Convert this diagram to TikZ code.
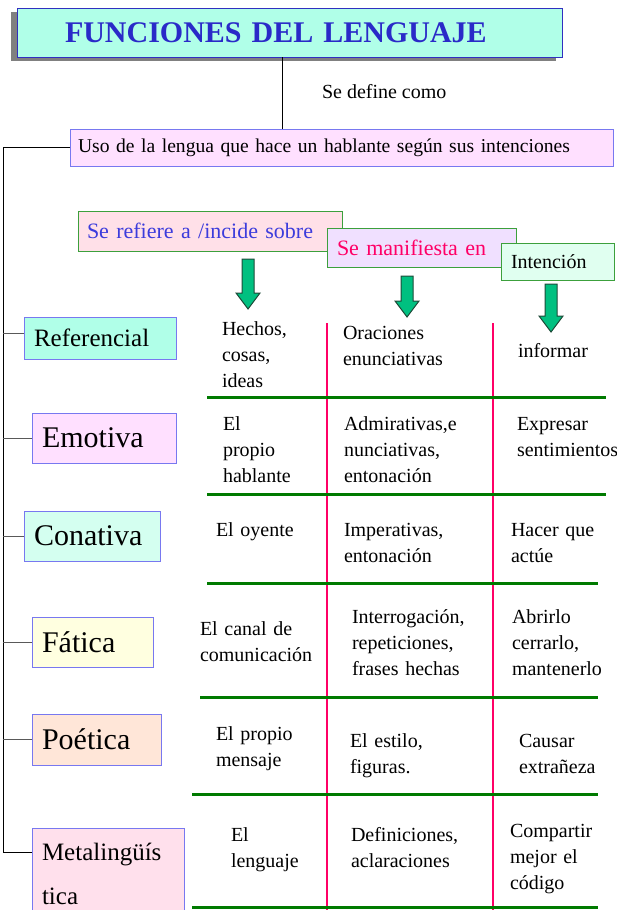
\documentclass[tikz,border=0pt]{standalone}
\usepackage{fontspec}
\setmainfont{Liberation Serif}
\usetikzlibrary{shadows}
\definecolor{cTitleFill}{HTML}{B0FFE8}
\definecolor{cTitleText}{HTML}{2A2AC8}
\definecolor{cTitleLine}{HTML}{3030C0}
\definecolor{cBlueLine}{HTML}{7878F0}
\definecolor{cUso}{HTML}{FFE0FF}
\definecolor{cGreenLine}{HTML}{3CA03C}
\definecolor{cRefiere}{HTML}{FFE0E8}
\definecolor{cRefText}{HTML}{3C3CDC}
\definecolor{cManif}{HTML}{F0E0FF}
\definecolor{cManText}{HTML}{FF0066}
\definecolor{cInt}{HTML}{E0FFF0}
\definecolor{cArrow}{HTML}{00C080}
\definecolor{cArrowLine}{HTML}{1E4A38}
\definecolor{cRed}{HTML}{FF0066}
\definecolor{cRule}{HTML}{007A00}
\definecolor{cEmo}{HTML}{FFE0FF}
\definecolor{cCon}{HTML}{D4FFF0}
\definecolor{cFat}{HTML}{FFFFE0}
\definecolor{cPoe}{HTML}{FFE6D8}
\definecolor{cMeta}{HTML}{FFE0EC}
\newcommand\garrow[3]{%
  \draw[arrowst] (#1-6,#2) -- (#1+6,#2) -- (#1+6,#3-16) -- (#1+12,#3-16) -- (#1,#3) -- (#1-12,#3-16) -- (#1-6,#3-16) -- cycle;}
\begin{document}
\begin{tikzpicture}[x=1pt,y=-1pt,
  every node/.style={inner sep=0pt,outer sep=0pt},
  cell/.style={anchor=base west, align=left, text width=150pt, font=\fontsize{20}{26}\selectfont},
  box/.style={draw, anchor=north west, align=left, line width=1pt},
  lbox/.style={box, draw=cBlueLine, inner xsep=10pt},
  gbox/.style={box, draw=cGreenLine},
  trunk/.style={line width=1pt, black},
  branch/.style={line width=1pt, black!65},
  vrule/.style={line width=2.5pt, cRed},
  hrule/.style={line width=3pt, cRule},
  arrowst/.style={fill=cArrow, draw=cArrowLine, line width=1pt},
  big/.style={font=\fontsize{30}{34}\selectfont},
  mid/.style={font=\fontsize{25}{30}\selectfont}]
\useasboundingbox (0,0) rectangle (617,910);

% title
\node[box, draw=cTitleLine, fill=cTitleFill, minimum width=545pt, minimum height=49pt,
  inner xsep=48pt, text width=449pt, text=cTitleText,
  font=\fontsize{30}{34}\selectfont\bfseries,
  drop shadow={shadow xshift=-6pt, shadow yshift=-4pt, opacity=1, fill=black!50}]
  (title) at (17,8) {FUNCIONES DEL LENGUAJE};

% definition box
\node[box, draw=cBlueLine, fill=cUso, minimum width=543pt, minimum height=37pt,
  inner xsep=8pt, text width=527pt, font=\fontsize{19.6}{24}\selectfont]
  (uso) at (70,129) {Uso de la lengua que hace un hablante según sus intenciones};
\coordinate (tt) at (282,57);
\draw[trunk] (tt) -- (tt |- uso.north);
\node[anchor=base west, font=\fontsize{20}{24}\selectfont] (def) at (322,98) {Se define como};

% headers
\node[gbox, fill=cRefiere, minimum width=264pt, minimum height=40pt, inner xsep=9pt,
  text width=246pt, text=cRefText, font=\fontsize{22}{26}\selectfont]
  (refiere) at (78,211) {Se refiere a /incide sobre};
\node[gbox, fill=cManif, minimum width=189pt, minimum height=39pt, inner xsep=10pt,
  text width=169pt, text=cManText, font=\fontsize{22}{26}\selectfont]
  (manif) at (327,228) {Se manifiesta en};
\node[gbox, fill=cInt, minimum width=113pt, minimum height=37pt, inner xsep=10pt,
  text width=93pt, font=\fontsize{20}{24}\selectfont]
  (inten) at (501,243) {Intención};

\garrow{248}{259}{309}
\garrow{407}{276}{317}
\garrow{551}{284}{332}

% function boxes
\node[lbox, fill=cTitleFill, minimum width=152pt, minimum height=42pt, text width=132pt, mid]
  (ref) at (24,317) {Referencial};
\node[lbox, fill=cEmo, minimum width=144pt, minimum height=50pt, text width=124pt, big]
  (emo) at (32,413) {Emotiva};
\node[lbox, fill=cCon, minimum width=136pt, minimum height=50pt, text width=116pt, big]
  (con) at (24,511) {Conativa};
\node[lbox, fill=cFat, minimum width=121pt, minimum height=50pt, text width=101pt, big]
  (fat) at (32,617) {Fática};
\node[lbox, fill=cPoe, minimum width=129pt, minimum height=51pt, text width=109pt, big]
  (poe) at (32,714) {Poética};
\node[lbox, fill=cMeta, minimum width=152pt, minimum height=95pt] (meta) at (32,828) {};
\node[anchor=base west, mid] (metat1) at (42,860) {Metalingüís};
\node[anchor=base west, mid] (metat2) at (42,904) {tica};
\coordinate (metab) at (32,852);

% tree lines
\coordinate (tk) at (3,0);
\draw[trunk] (uso.west) -- (uso.west -| tk) -- (metab -| tk) -- (metab);
\draw[branch] ([yshift=5pt]ref.west) -- ([yshift=5pt]ref.west -| tk);
\draw[branch] (emo.west) -- (emo.west -| tk);
\draw[branch] (con.west) -- (con.west -| tk);
\draw[branch] (fat.west) -- (fat.west -| tk);
\draw[branch] (poe.west) -- (poe.west -| tk);

% table rules
\draw[vrule] (327,323) -- (327,912);
\draw[vrule] (493,323) -- (493,912);
\draw[hrule] (207,397) -- (606,397);
\draw[hrule] (207,494) -- (606,494);
\draw[hrule] (207,583) -- (598,583);
\draw[hrule] (200,697) -- (598,697);
\draw[hrule] (192,794) -- (598,794);
\draw[hrule] (192,907) -- (598,907);

% cells
\node[cell] (c11) at (222,335) {Hechos,\\cosas,\\ideas};
\node[cell] (c12) at (343,339) {Oraciones\\enunciativas};
\node[cell] (c13) at (518,357) {informar};
\node[cell] (c21) at (223,430) {El\\propio\\hablante};
\node[cell] (c22) at (344,430) {Admirativas,e\\nunciativas,\\entonación};
\node[cell] (c23) at (517,430) {Expresar\\sentimientos};
\node[cell] (c31) at (216,536) {El oyente};
\node[cell] (c32) at (344,536) {Imperativas,\\entonación};
\node[cell] (c33) at (511,536) {Hacer que\\actúe};
\node[cell] (c41) at (200,635) {El canal de\\comunicación};
\node[cell] (c42) at (352,623) {Interrogación,\\repeticiones,\\frases hechas};
\node[cell] (c43) at (512,623) {Abrirlo\\cerrarlo,\\mantenerlo};
\node[cell] (c51) at (216,740) {El propio\\mensaje};
\node[cell] (c52) at (350,747) {El estilo,\\figuras.};
\node[cell] (c53) at (519,747) {Causar\\extrañeza};
\node[cell] (c61) at (231,841) {El\\lenguaje};
\node[cell] (c62) at (351,841) {Definiciones,\\aclaraciones};
\node[cell] (c63) at (510,837) {Compartir\\mejor el\\código};
\end{tikzpicture}
\end{document}
